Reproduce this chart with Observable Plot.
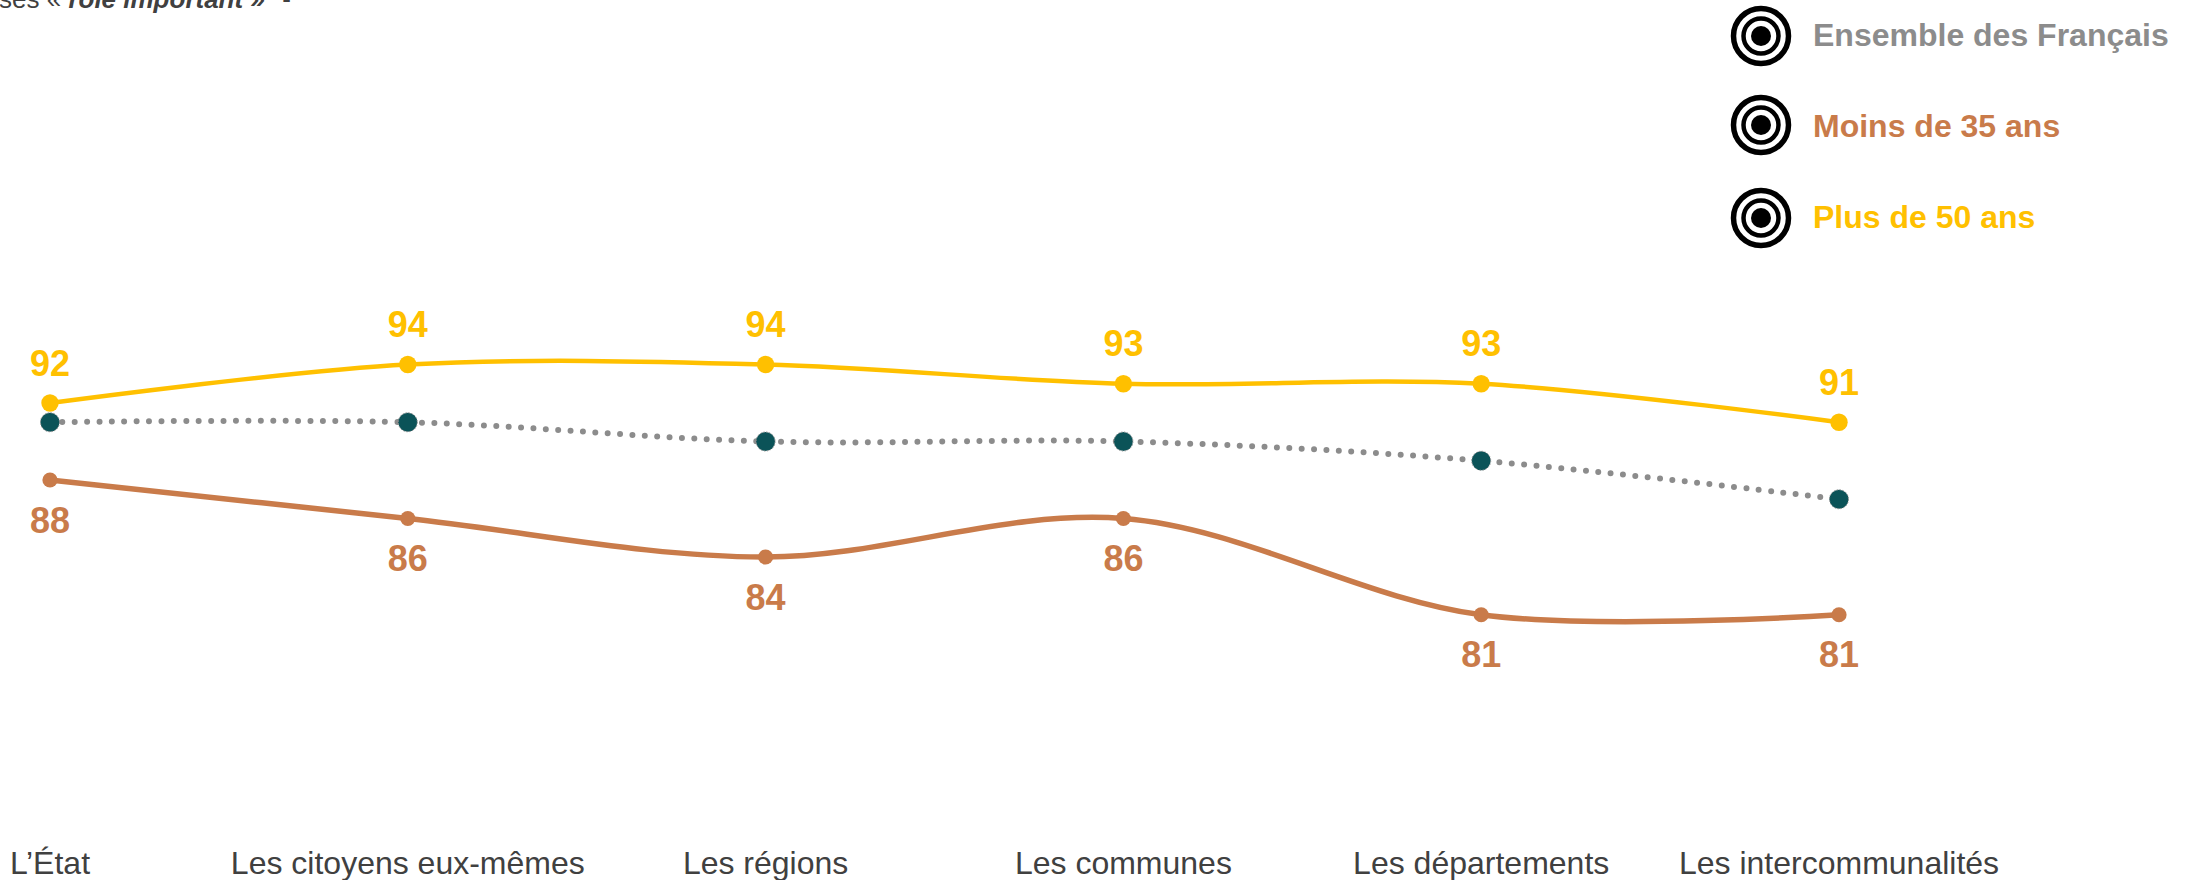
<!DOCTYPE html>
<html lang="fr">
<head>
<meta charset="utf-8">
<script src="https://cdn.jsdelivr.net/npm/d3@7"></script>
<script src="https://cdn.jsdelivr.net/npm/@observablehq/plot@0.6"></script>
<style>
html,body{margin:0;padding:0;background:#fff;overflow:hidden;width:2197px;height:880px;position:relative;font-family:"Liberation Sans",Arial,sans-serif}
#chart svg{display:block}
#note{position:absolute;left:-1px;top:-16px;font-size:26px;line-height:30px;color:#404040;white-space:pre}
#note b{font-style:italic}
#note i{font-style:normal;margin-left:3px}
.lg{position:absolute;left:1730px;display:flex;align-items:center;height:62px;font-weight:bold;font-size:32px;white-space:nowrap}
.lg svg{width:62px;height:62px;margin-right:21px;flex:none}
.lg span{position:relative}
</style>
</head>
<body>
<div id="chart"></div>
<div id="note">ses « <b>rôle important »</b>  <i>-</i></div>
<div id="legend"></div>
<script>
const categories = ["L’État","Les citoyens eux-mêmes","Les régions","Les communes","Les départements","Les intercommunalités"];
const ensemble = [91,91,90,90,89,87];
const moins35 = [88,86,84,86,81,81];
const plus50 = [92,94,94,93,93,91];
const colors = {ensemble:"#8c8c8c", moins35:"#C97B4A", plus50:"#FFC000", dot:"#0B5358"};
const legendItems = [["Ensemble des Français",colors.ensemble,5,-1],["Moins de 35 ans",colors.moins35,94,1],["Plus de 50 ans",colors.plus50,187,-1]];

const row = vals => vals.map((v,i)=>({cat:categories[i],v}));
const chart = Plot.plot({
  width:2197,height:880,margin:0,marginBottom:29,
  style:{fontFamily:"'Liberation Sans',Arial,sans-serif",background:"#fff"},
  x:{type:"point",domain:categories,range:[49.5,1838.5],padding:0,round:false},
  y:{domain:[94,86],range:[364,518],axis:null},
  marks:[
    Plot.axisX({anchor:"bottom",tickSize:0,tickPadding:0,fontSize:32,color:"#404040",label:null,tickFormat:d=>d}),
    Plot.line(row(ensemble),{x:"cat",y:"v",curve:"catmull-rom",stroke:colors.ensemble,strokeWidth:6,strokeDasharray:"0 12.4",strokeLinecap:"round"}),
    Plot.line(row(moins35),{x:"cat",y:"v",curve:"catmull-rom",stroke:colors.moins35,strokeWidth:5.5}),
    Plot.line(row(plus50),{x:"cat",y:"v",curve:"catmull-rom",stroke:colors.plus50,strokeWidth:4.5}),
    Plot.dot(row(ensemble),{x:"cat",y:"v",r:9.5,fill:colors.dot,stroke:colors.ensemble,strokeWidth:1,strokeDasharray:"1.5 1.5"}),
    Plot.dot(row(moins35),{x:"cat",y:"v",r:7.6,fill:colors.moins35}),
    Plot.dot(row(plus50),{x:"cat",y:"v",r:8.7,fill:colors.plus50}),
    Plot.text(row(moins35),{x:"cat",y:"v",text:d=>String(d.v),dy:41,fill:colors.moins35,fontWeight:"bold",fontSize:36}),
    Plot.text(row(plus50),{x:"cat",y:"v",text:d=>String(d.v),dy:-39,fill:colors.plus50,fontWeight:"bold",fontSize:36})
  ]
});
document.getElementById("chart").append(chart);

const legend = document.getElementById("legend");
for (const [label,color,top,shift] of legendItems){
  const d = document.createElement("div");
  d.className="lg"; d.style.top=top+"px"; d.style.color=color;
  d.innerHTML='<svg viewBox="-31 -31 62 62"><circle r="27.5" fill="none" stroke="#000" stroke-width="5.5"/><circle r="17.5" fill="none" stroke="#000" stroke-width="4.5"/><circle r="10" fill="#000"/></svg>';
  const s = document.createElement("span");
  s.style.top = shift+"px";
  s.textContent = label;
  d.append(s);
  legend.append(d);
}
</script>
</body>
</html>
